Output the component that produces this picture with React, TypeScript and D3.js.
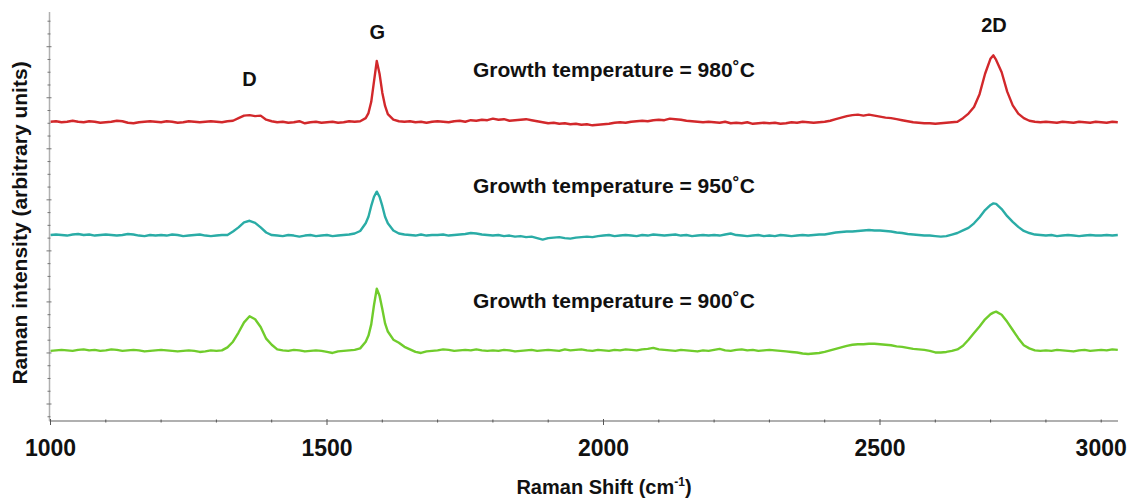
import React, { useLayoutEffect } from "react";
import * as d3 from "d3";

// Raman shift sampling (cm-1)
const shifts = [
  1000, 1010, 1020, 1030, 1040, 1050, 1060, 1070, 1080, 1090,
  1100, 1110, 1120, 1130, 1140, 1150, 1160, 1170, 1180, 1190,
  1200, 1210, 1220, 1230, 1240, 1250, 1260, 1270, 1280, 1290,
  1300, 1310, 1320, 1330, 1340, 1350, 1360, 1370, 1380, 1390,
  1400, 1410, 1420, 1430, 1440, 1450, 1460, 1470, 1480, 1490,
  1500, 1510, 1520, 1530, 1540, 1550, 1560, 1570, 1575, 1580, 1585, 1590,
  1595, 1600, 1605, 1610, 1620, 1630, 1640, 1650, 1660, 1670, 1680, 1690,
  1700, 1710, 1720, 1730, 1740, 1750, 1760, 1770, 1780, 1790,
  1800, 1810, 1820, 1830, 1840, 1850, 1860, 1870, 1880, 1890,
  1900, 1910, 1920, 1930, 1940, 1950, 1960, 1970, 1980, 1990,
  2000, 2010, 2020, 2030, 2040, 2050, 2060, 2070, 2080, 2090,
  2100, 2110, 2120, 2130, 2140, 2150, 2160, 2170, 2180, 2190,
  2200, 2210, 2220, 2230, 2240, 2250, 2260, 2270, 2280, 2290,
  2300, 2310, 2320, 2330, 2340, 2350, 2360, 2370, 2380, 2390,
  2400, 2410, 2420, 2430, 2440, 2450, 2460, 2470, 2480, 2490,
  2500, 2510, 2520, 2530, 2540, 2550, 2560, 2570, 2580, 2590,
  2600, 2610, 2620, 2630, 2640, 2650, 2660, 2670, 2680, 2690,
  2700, 2705, 2710, 2720, 2730, 2740, 2750, 2760, 2770, 2780, 2790,
  2800, 2810, 2820, 2830, 2840, 2850, 2860, 2870, 2880, 2890,
  2900, 2910, 2920, 2930,
];

// Intensities above each spectrum's own baseline (arbitrary units)
const red980 = [
  1, 2, 0, 1, 3, 1, 0, 2, 1, -1,
  0, 1, 3, 2, -1, -2, 0, 1, 2, 1,
  0, 2, 1, -1, 0, 2, 1, 0, 1, 2,
  1, 0, 2, 3, 8, 13, 14, 12, 13, 5,
  2, 0, 1, -1, 0, 2, -2, 0, 1, -1,
  0, 1, -1, 0, 2, 1, 2, 8, 18, 40, 80, 120,
  95, 58, 32, 16, 5, 2, 1, 2, 0, 1, -1, 1,
  2, 1, 0, 2, 3, 1, 4, 3, 5, 4,
  7, 5, 6, 3, 4, 5, 6, 4, 2, 0,
  -2, -1, -3, -2, -4, -3, -5, -4, -6, -5,
  -4, -3, -1, 0, -1, 1, 2, 3, 2, 4,
  5, 4, 7, 6, 5, 3, 2, 1, 0, 1,
  0, -1, 1, -2, -1, -2, 0, -3, -2, -1,
  -2, -1, -3, -2, 0, -1, 1, 0, -1, 0,
  1, 3, 6, 9, 12, 14, 15, 13, 15, 13,
  11, 9, 8, 6, 4, 2, 0, -1, -2, -2,
  -3, -2, -1, 0, 1, 8, 17, 30, 55, 95,
  125, 131, 122, 98, 60, 33, 17, 8, 3, 1, 0,
  1, 0, -1, 1, 0, -1, 1, 0, -1, 1,
  0, -1, 1, 0,
];

const teal950 = [
  1, 2, 1, 0, 2, 3, 1, 2, 0, 1,
  2, 1, 0, 1, 3, 2, 0, -1, 1, 0,
  1, 0, 2, 1, -1, 0, 1, 2, 0, -1,
  0, 1, 1, 8, 16, 26, 29, 25, 16, 6,
  1, 0, -1, 1, 0, -2, 0, 1, -1, 0,
  1, -1, 0, 1, 2, 4, 9, 24, 37, 58, 76, 86,
  76, 58, 37, 24, 10, 4, 2, 1, 0, 2, 0, 1,
  1, 2, 0, 1, 2, 3, 5, 4, 2, 1,
  0, 1, -1, 0, -2, -1, -3, -2, -5, -8,
  -5, -4, -3, -5, -6, -4, -3, -2, -3, -1,
  0, 1, -1, 0, 1, 0, -1, 1, 0, 2,
  1, 0, 1, 2, 0, 1, -1, 0, 1, 0,
  1, 0, 2, 4, 1, 0, -1, 0, 1, -1,
  0, -1, 1, 0, -1, 0, 1, 0, 1, 2,
  2, 4, 6, 7, 8, 8, 9, 10, 11, 10,
  10, 9, 8, 6, 5, 3, 2, 1, 0, 0,
  -1, -2, -1, 2, 5, 10, 15, 24, 36, 50,
  60, 63, 62, 52, 38, 27, 17, 9, 5, 2, 1,
  0, 1, -1, 0, 1, 0, -1, 0, 1, 0,
  0, 1, 0, 1,
];

const green900 = [
  0, 1, 2, 1, 0, 2, 3, 1, 2, 0,
  1, 3, 2, 0, 1, 2, 1, -1, 0, 1,
  2, 1, 0, -1, 0, 1, 0, -2, -1, 1,
  0, 1, 7, 18, 36, 56, 68, 62, 47, 24,
  12, 3, 1, 0, 2, 1, -1, 0, 1, 0,
  -2, -4, -1, 0, 1, 2, 5, 18, 30, 52, 90, 122,
  108, 82, 54, 38, 22, 16, 8, 3, -2, -4, -1, 0,
  1, 3, 2, 0, 1, 2, 1, 3, 1, 0,
  1, 0, 2, 1, -1, 0, 1, 2, 0, 1,
  2, 1, 0, 3, 1, 2, 3, 1, 0, 2,
  1, 0, 2, 1, 3, 2, 1, 3, 4, 6,
  3, 2, 1, 0, 2, 1, 0, -1, 1, 0,
  2, 4, 1, 0, 2, 3, 1, 2, 0, 1,
  2, 1, 0, -1, -2, -3, -5, -6, -5, -4,
  -2, 1, 4, 7, 10, 12, 13, 13, 14, 14,
  13, 12, 11, 9, 8, 6, 4, 3, 2, 0,
  -3, -3, -2, 0, 3, 10, 22, 35, 48, 62,
  72, 75, 77, 71, 57, 41, 25, 11, 5, 1, 0,
  1, 0, 2, 1, 0, -1, 1, 2, 0, 1,
  2, 1, 3, 2,
];

const seriesValues = [red980, teal950, green900];
const seriesLabels = [
  "Growth temperature = 980˚C",
  "Growth temperature = 950˚C",
  "Growth temperature = 900˚C",
];
const seriesOffsets = [552, 330, 104];
const seriesColors = ["#d2282b", "#2aaca6", "#70cc2c"];

const peakNames = ["D", "G", "2D"];
const peakShifts = [1360, 1591, 2706];

const xTickValues = [1000, 1500, 2000, 2500, 2900];
const xTickLabels = ["1000", "1500", "2000", "2500", "3000"];

const FONT = "'Liberation Sans', Arial, Helvetica, sans-serif";

export default function App() {
  useLayoutEffect(() => {
    document.body.style.margin = "0";
  }, []);

  const W = 1130;
  const H = 500;
  const x = d3.scaleLinear().domain([1000, 2930]).range([50.5, 1117.8]);
  const y = d3.scaleLinear().domain([-33.3, 768]).range([421, 12]);

  const line = d3
    .line<number>()
    .x((_, i) => x(shifts[i]))
    .curve(d3.curveLinear);

  const xMinor = d3.range(1000, 2901, 100);
  const yMinor = d3.range(-25, 751, 25);

  const axisX = 49.5;
  const axisY = 421;

  return (
    <svg width={W} height={H} style={{ display: "block", background: "#fff" }}>
      {/* spectra */}
      {seriesValues.map((vals, s) => (
        <path
          key={s}
          d={line.y((v) => y(v + seriesOffsets[s]))(vals) || ""}
          fill="none"
          stroke={seriesColors[s]}
          strokeWidth={2.4}
          strokeLinejoin="round"
        />
      ))}

      {/* y axis */}
      <line x1={axisX} x2={axisX} y1={12} y2={axisY} stroke="#b0b0b0" strokeWidth={1.5} />
      {yMinor.map((v) => {
        const major = v % 100 === 0;
        return (
          <line
            key={v}
            x1={axisX - (major ? 3 : 2)}
            x2={axisX + (major ? 2 : 1)}
            y1={y(v)}
            y2={y(v)}
            stroke="#777"
            strokeWidth={1}
          />
        );
      })}

      {/* x axis */}
      <line x1={axisX} x2={1118} y1={axisY} y2={axisY} stroke="#b0b0b0" strokeWidth={2} />
      {xMinor.map((v) => {
        const major = v % 500 === 0;
        return (
          <line
            key={v}
            x1={x(v)}
            x2={x(v)}
            y1={axisY - (major ? 2 : 1.5)}
            y2={axisY + (major ? 4 : 1.5)}
            stroke="#555"
            strokeWidth={1}
          />
        );
      })}
      {xTickValues.map((v, i) => (
        <text
          key={v}
          x={x(v)}
          y={456}
          textAnchor="middle"
          fontFamily={FONT}
          fontWeight="bold"
          fontSize={23}
          fill="#111"
        >
          {xTickLabels[i]}
        </text>
      ))}

      {/* axis titles */}
      <text
        x={604}
        y={494}
        textAnchor="middle"
        fontFamily={FONT}
        fontWeight="bold"
        fontSize={20}
        fill="#111"
      >
        Raman Shift (cm
        <tspan fontSize={12} dy={-8}>-1</tspan>
        <tspan dy={8}>)</tspan>
      </text>
      <text
        transform="translate(27,223) rotate(-90)"
        textAnchor="middle"
        fontFamily={FONT}
        fontWeight="bold"
        fontSize={21}
        fill="#111"
      >
        Raman intensity (arbitrary units)
      </text>

      {/* peak labels */}
      {peakNames.map((p, i) => (
        <text
          key={p}
          x={x(peakShifts[i])}
          y={[86, 39, 32][i]}
          textAnchor="middle"
          fontFamily={FONT}
          fontWeight="bold"
          fontSize={20}
          fill="#111"
        >
          {p}
        </text>
      ))}

      {/* series annotations */}
      {seriesLabels.map((t, i) => (
        <text
          key={t}
          x={x(1764)}
          y={[77, 193, 308][i]}
          fontFamily={FONT}
          fontWeight="bold"
          fontSize={21}
          fill="#111"
        >
          {t}
        </text>
      ))}
    </svg>
  );
}
